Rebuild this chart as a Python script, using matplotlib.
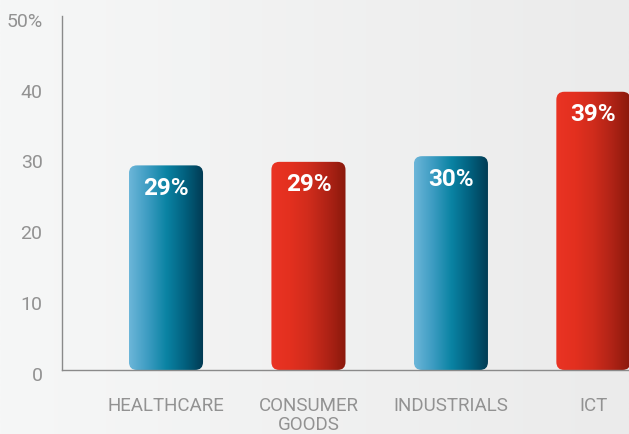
import numpy as np
import matplotlib
matplotlib.use("Agg")
import matplotlib.pyplot as plt
from matplotlib.patches import FancyBboxPatch
from matplotlib.colors import LinearSegmentedColormap
import matplotlib.transforms as mtransforms

# Data
categories = ["HEALTHCARE", "CONSUMER\nGOODS", "INDUSTRIALS", "ICT"]
shares = [28.9, 29.4, 30.2, 39.3]
value_labels = ["29%", "29%", "30%", "39%"]
palette_keys = ["blue", "red", "blue", "red"]
yticks = [0, 10, 20, 30, 40, 50]
ytick_labels = ["0", "10", "20", "30", "40", "50%"]

gradients = {
    "blue": LinearSegmentedColormap.from_list(
        "blue", ["#6cb6d9", "#3d9cc2", "#0a83a3", "#02607e", "#013a52"]),
    "red": LinearSegmentedColormap.from_list(
        "red", ["#ea3424", "#e3301f", "#d02c1c", "#b02316", "#8a190c"]),
}

W, H, DPI = 629, 435, 100
fig = plt.figure(figsize=(W / DPI, H / DPI), dpi=DPI)

# Soft background wash across the whole figure
bg = fig.add_axes([0, 0, 1, 1], zorder=-10)
bg.imshow(np.linspace(0, 1, 256).reshape(1, -1),
          cmap=LinearSegmentedColormap.from_list("bg", ["#f6f7f7", "#ebebeb"]),
          aspect="auto", extent=[0, 1, 0, 1])
bg.set_axis_off()

left_px, base_px, top_px = 62, 371, 17
ax = fig.add_axes([left_px / W, (H - base_px) / H, 1 - left_px / W,
                   (base_px - top_px) / H])
ax.patch.set_alpha(0)

x = np.arange(len(categories))
bar_w = 0.52
ax.set_xlim(-0.73, 3.25)
ax.set_ylim(0, 50)

# px per data unit in x and y
px_x = (W - left_px) / (3.25 + 0.73)
px_y = (base_px - top_px) / 50
radius_px = 8
r_x = radius_px / px_x
aspect = (radius_px / px_y) / r_x

for xi, val, key, lab in zip(x, shares, palette_keys, value_labels):
    x0 = xi - bar_w / 2
    patch = FancyBboxPatch((x0, 0), bar_w, val,
                           boxstyle=f"round,pad=0,rounding_size={r_x}",
                           mutation_aspect=aspect,
                           facecolor="none", edgecolor="none",
                           transform=ax.transData)
    ax.add_patch(patch)
    im = ax.imshow(np.linspace(0, 1, 256).reshape(1, -1), cmap=gradients[key],
                   aspect="auto", extent=[x0, x0 + bar_w, 0, val], zorder=2)
    im.set_clip_path(patch)
    ax.text(xi, val - 22 / px_y, lab, ha="center", va="center",
            color="white", fontsize=17.5, fontweight="bold",
            family="Roboto", zorder=3)

ax.set_xlim(-0.73, 3.25)
ax.set_ylim(0, 50)

for s in ["top", "right"]:
    ax.spines[s].set_visible(False)
for s in ["left", "bottom"]:
    ax.spines[s].set_color("#8a8a8a")
    ax.spines[s].set_linewidth(1.0)

ax.set_yticks(yticks)
ax.set_yticklabels(ytick_labels)
ax.set_xticks(x)
ax.set_xticklabels(categories, linespacing=1.05)
ax.tick_params(axis="y", length=0, pad=14, labelsize=14, labelcolor="#929292")
ax.tick_params(axis="x", length=0, pad=19, labelsize=13.5, labelcolor="#929292")
for t in ax.get_yticklabels() + ax.get_xticklabels():
    t.set_family("Roboto")
    t.set_fontweight("normal")
offset = mtransforms.ScaledTranslation(0, -2 / 72, fig.dpi_scale_trans)
for t in ax.get_yticklabels():
    t.set_transform(t.get_transform() + offset)

fig.savefig("out.png", dpi=DPI)
